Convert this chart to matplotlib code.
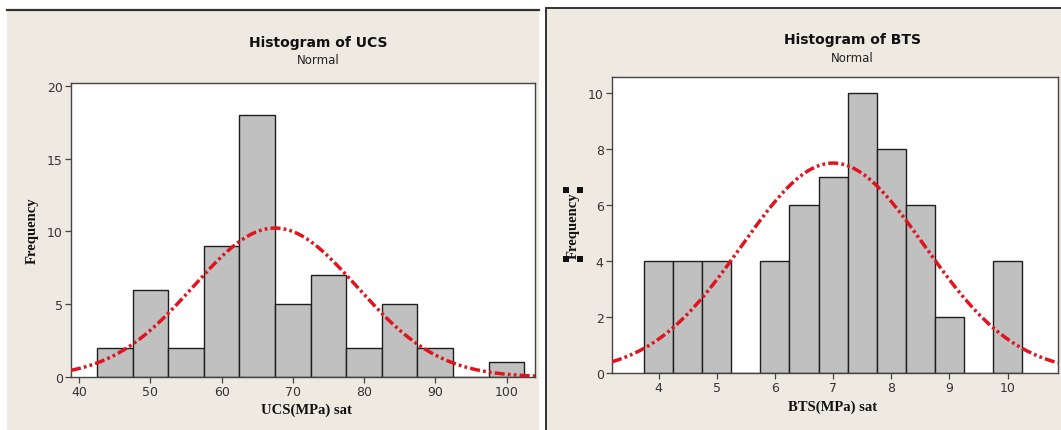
import numpy as np
import matplotlib
matplotlib.use("Agg")
import matplotlib.pyplot as plt
from matplotlib.patches import Rectangle

# ---- data -------------------------------------------------------------
ucs_centers = [45, 50, 55, 60, 65, 70, 75, 80, 85, 90, 95, 100]
ucs_counts = [2, 6, 2, 9, 18, 5, 7, 2, 5, 2, 0, 1]
ucs_bin_width = 5
ucs_mean = 67.5
ucs_sd = 11.5
ucs_xticks = [40, 50, 60, 70, 80, 90, 100]
ucs_yticks = [0, 5, 10, 15, 20]

bts_centers = [4.0, 4.5, 5.0, 5.5, 6.0, 6.5, 7.0, 7.5, 8.0, 8.5, 9.0, 9.5, 10.0]
bts_counts = [4, 4, 4, 0, 4, 6, 7, 10, 8, 6, 2, 0, 4]
bts_bin_width = 0.5
bts_mean = 7.0
bts_sd = 1.57
bts_xticks = [4, 5, 6, 7, 8, 9, 10]
bts_yticks = [0, 2, 4, 6, 8, 10]

# ---- figure ----------------------------------------------------------
W, H = 1061, 431
fig = plt.figure(figsize=(W / 100, H / 100), dpi=100, facecolor="white")

BEIGE = "#eeeae2"
FRAME = "#333333"


def fx(x):
    return x / W


def fy(y):
    return 1 - y / H


def rect_px(x0, y0, x1, y1, **kw):
    fig.patches.append(Rectangle((fx(x0), fy(y1)), fx(x1) - fx(x0), fy(y0) - fy(y1),
                                 transform=fig.transFigure, figure=fig, **kw))


# panel backgrounds (kept behind the axes)
rect_px(7, 11, 539, 432, facecolor=BEIGE, edgecolor="none", zorder=-2)
fig.add_artist(plt.Line2D([fx(7), fx(539)], [fy(11), fy(11)], color=FRAME, lw=1.6,
                          transform=fig.transFigure, zorder=-1))
rect_px(546, 9, 1070, 440, facecolor=BEIGE, edgecolor=FRAME, lw=1.4, zorder=-2)


def make_hist(ax, centers, counts, bw, mean, sd, xlim, ylim, xticks, yticks):
    ax.set_facecolor("white")
    ax.bar(centers, counts, width=bw, color="#c0c0c0", edgecolor="#1e1e1e",
           linewidth=1.0, zorder=2)
    # fitted normal curve, scaled to counts per bin
    xs = np.linspace(xlim[0], xlim[1], 500)
    n = sum(counts)
    ys = n * bw / (sd * np.sqrt(2 * np.pi)) * np.exp(-0.5 * ((xs - mean) / sd) ** 2)
    line, = ax.plot(xs, ys, color="#e0141e", lw=2.5, zorder=3)
    line.set_dashes([2.9, 0.9, 0.8, 0.9, 0.8, 0.9])
    ax.set_xlim(*xlim)
    ax.set_ylim(*ylim)
    ax.set_xticks(xticks)
    ax.set_yticks(yticks)
    for s in ax.spines.values():
        s.set_color("#444444")
        s.set_linewidth(1.0)
    ax.tick_params(direction="out", length=4, width=0.9, color="#444444",
                   labelcolor="#333333", labelsize=9, pad=2)
    for lab in ax.get_xticklabels() + ax.get_yticklabels():
        lab.set_fontfamily("DejaVu Sans")


ax1 = fig.add_axes([fx(71), fy(378), fx(535) - fx(71), fy(84) - fy(378)])
make_hist(ax1, ucs_centers, ucs_counts, ucs_bin_width, ucs_mean, ucs_sd,
          (38.85, 104.0), (0, 20.2), ucs_xticks, ucs_yticks)

ax2 = fig.add_axes([fx(612), fy(374), fx(1058) - fx(612), fy(78) - fy(374)])
make_hist(ax2, bts_centers, bts_counts, bts_bin_width, bts_mean, bts_sd,
          (3.2, 10.865), (0, 10.57), bts_xticks, bts_yticks)

# titles and axis labels
title_kw = dict(fontfamily="DejaVu Sans", fontweight="bold", fontsize=10,
                color="#111111", ha="center", va="center")
sub_kw = dict(fontfamily="DejaVu Sans", fontsize=8.5, color="#222222",
              ha="center", va="center")
lab_kw = dict(fontfamily="Liberation Serif", fontweight="bold", fontsize=10.5,
              color="#111111", ha="center", va="center")

fig.text(fx(318), fy(43), "Histogram of UCS", **title_kw)
fig.text(fx(318), fy(61), "Normal", **sub_kw)
fig.text(fx(306), fy(410), "UCS(MPa) sat", **lab_kw)
fig.text(fx(32), fy(231), "Frequency", rotation=90, **lab_kw)

fig.text(fx(853), fy(40), "Histogram of BTS", **title_kw)
fig.text(fx(852), fy(58), "Normal", **sub_kw)
fig.text(fx(833), fy(407), "BTS(MPa) sat", **lab_kw)
fig.text(fx(573), fy(226), "Frequency", rotation=90, **lab_kw)

# selection handles around the right-hand y label
for cx, cy in [(566, 191), (580, 191), (566, 260), (580, 260)]:
    rect_px(cx - 3, cy - 3, cx + 3, cy + 3, facecolor="#111111", edgecolor="none", zorder=5)

fig.savefig("out.png", dpi=100, facecolor=fig.get_facecolor())
